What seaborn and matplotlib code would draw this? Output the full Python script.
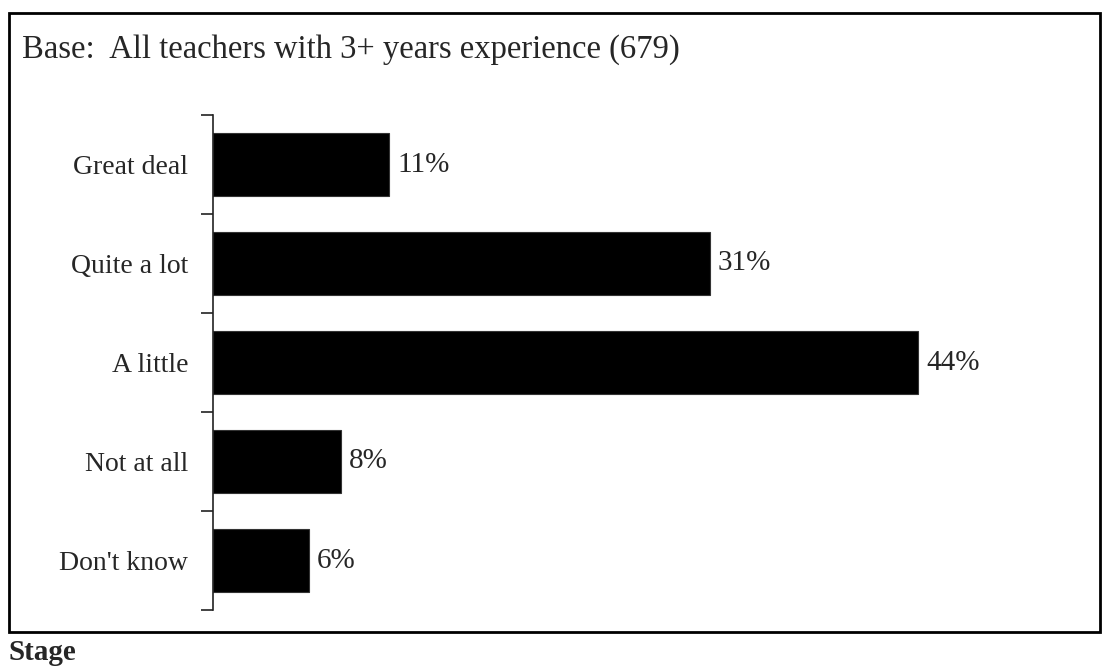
import matplotlib
matplotlib.use("Agg")
import matplotlib.pyplot as plt
import seaborn as sns
import pandas as pd
from matplotlib.patches import Rectangle
from matplotlib.ticker import FixedLocator

categories = ["Great deal", "Quite a lot", "A little", "Not at all", "Don't know"]
percents = [11, 31, 44, 8, 6]
base_text = "Base:  All teachers with 3+ years experience (679)"
footer_text = "Stage"

df = pd.DataFrame({"category": categories, "pct": percents})

sns.set_theme(style="white")
plt.rcParams["font.family"] = ["Liberation Serif", "DejaVu Serif"]

W, H = 1104, 668
fig = plt.figure(figsize=(W / 100, H / 100), dpi=100)
ax = fig.add_axes([213 / W, 1 - 610 / H, (1014 - 213) / W, (610 - 115) / H])

sns.barplot(data=df, x="pct", y="category", ax=ax, color="black",
            edgecolor="#333333", linewidth=0.8, width=0.645, saturation=1)

ax.set_xlim(0, 50)
ax.set_ylim(len(categories) - 0.5, -0.5)
ax.set_xlabel("")
ax.set_ylabel("")
ax.set_xticks([])

for s in ["top", "right", "bottom"]:
    ax.spines[s].set_visible(False)
ax.spines["left"].set_color("#222222")
ax.spines["left"].set_linewidth(1.2)

# labels at category centres, ticks at the boundaries between bars
ax.set_yticks(range(len(categories)))
ax.set_yticklabels(categories, fontsize=20)
ax.tick_params(axis="y", which="major", length=0, pad=18)
ax.yaxis.set_minor_locator(FixedLocator([i - 0.5 for i in range(len(categories) + 1)]))
ax.tick_params(axis="y", which="minor", length=9, width=1.2, color="#222222", left=True)

for i, v in enumerate(percents):
    ax.text(v + 0.5, i, f"{v}%", va="center", ha="left", fontsize=21)

fig.text(22 / W, 1 - 50 / H, base_text, fontsize=23.5, va="center", ha="left")
fig.text(8 / W, 1 - 653 / H, footer_text, fontsize=21, fontweight="bold", va="center", ha="left")

fig.patches.append(Rectangle((9 / W, 1 - 632 / H), (1100 - 9) / W, (632 - 13) / H,
                             transform=fig.transFigure, fill=False, edgecolor="black",
                             linewidth=2.0))

fig.savefig("out.png", dpi=100)
